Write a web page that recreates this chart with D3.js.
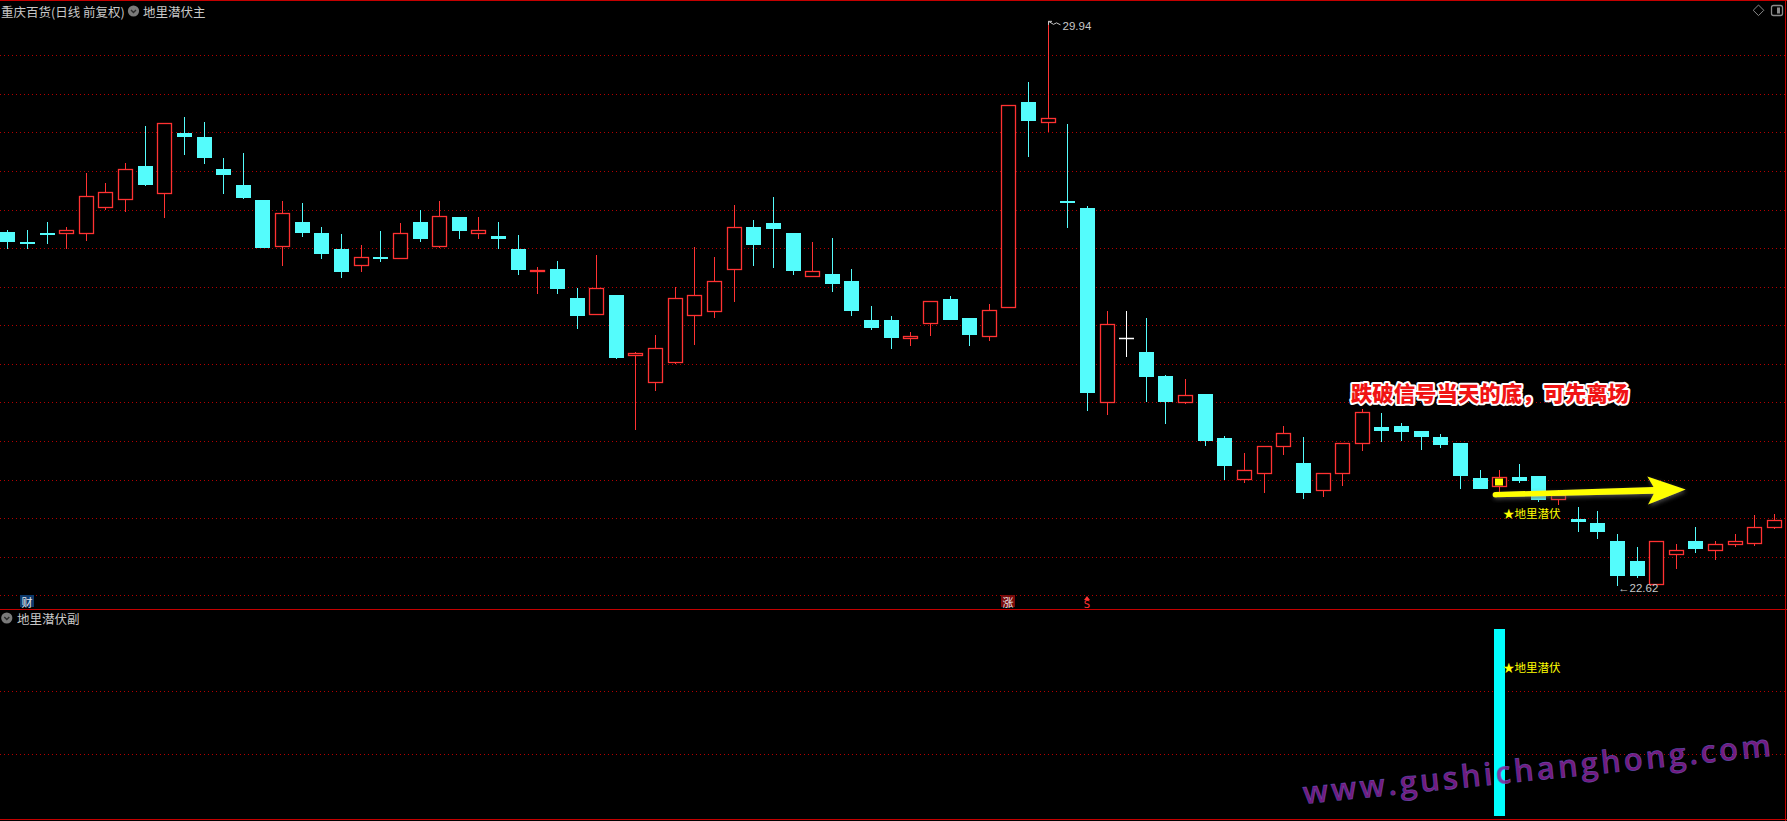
<!DOCTYPE html>
<html>
<head>
<meta charset="utf-8">
<script src="https://cdn.jsdelivr.net/npm/d3@7"></script>
<style>
html, body { margin: 0; padding: 0; background: #000; overflow: hidden; }
text { font-family: "Noto Sans CJK SC", "Noto Sans", sans-serif; }
</style>
</head>
<body>
<div id="chart"></div>
<script>
// daily bars
const opens  = [27.21,27.08,27.20,27.20,27.19,27.53,27.64,28.06,27.71,28.49,28.44,28.02,27.82,27.62,27.03,27.34,27.19,26.99,26.78,26.89,
                26.87,27.34,27.03,27.40,27.20,27.16,26.99,26.71,26.73,26.35,26.15,26.39,25.61,25.27,25.52,26.13,26.19,26.73,27.28,27.32,
                27.19,26.64,26.67,26.57,26.07,26.07,25.83,26.03,26.34,26.10,25.86,26.24,28.89,28.64,27.61,27.52,25.01,25.84,25.65,25.34,
                25.01,25.11,24.54,24.01,24.08,24.44,24.21,23.87,24.09,24.48,24.68,24.70,24.63,24.55,24.47,24.02,23.92,24.04,24.05,23.75,
                23.49,23.44,23.21,22.94,22.65,23.04,23.20,23.09,23.17,23.18,23.38];
const highs  = [27.23,27.24,27.34,27.27,27.98,27.85,28.10,28.59,28.62,28.70,28.64,28.17,28.24,27.63,27.61,27.58,27.27,27.18,27.04,27.22,
                27.32,27.50,27.61,27.40,27.41,27.34,27.17,26.75,26.83,26.49,26.91,26.39,25.66,25.87,26.50,27.01,26.88,27.56,27.37,27.66,
                27.19,27.08,27.13,26.73,26.25,26.12,25.91,26.32,26.38,26.10,26.27,28.85,29.15,29.94,28.61,27.55,26.18,26.19,26.09,25.36,
                25.31,25.11,24.56,24.35,24.44,24.69,24.55,24.08,24.48,24.91,24.86,24.74,24.63,24.59,24.47,24.12,24.13,24.20,24.05,23.87,
                23.65,23.59,23.29,23.13,23.21,23.17,23.38,23.21,23.29,23.54,23.55];
const lows   = [26.99,26.99,27.05,26.99,27.09,27.50,27.47,27.80,27.39,28.21,28.09,27.70,27.64,27.00,26.77,27.15,26.86,26.61,26.69,26.82,
                26.87,27.08,27.00,27.12,27.12,26.99,26.65,26.41,26.41,25.95,26.15,25.56,24.64,25.15,25.50,25.74,26.09,26.30,26.77,26.74,
                26.65,26.63,26.43,26.12,25.94,25.69,25.73,25.86,26.07,25.73,25.80,26.24,28.18,28.50,27.26,24.89,24.84,25.59,25.01,24.72,
                24.98,24.44,23.99,23.96,23.82,24.32,23.75,23.77,23.92,24.37,24.49,24.50,24.38,24.41,23.88,23.88,23.83,23.96,23.71,23.67,
                23.32,23.23,22.62,22.72,22.65,22.84,23.05,22.96,23.13,23.14,23.36];
const closes = [27.08,27.05,27.19,27.23,27.68,27.73,28.02,27.82,28.62,28.44,28.17,27.95,27.65,27.00,27.46,27.20,26.92,26.69,26.89,26.88,
                27.20,27.12,27.42,27.22,27.23,27.12,26.72,26.72,26.47,26.12,26.49,25.58,25.64,25.70,26.35,26.39,26.57,27.28,27.04,27.25,
                26.70,26.70,26.54,26.19,25.97,25.84,25.86,26.31,26.07,25.87,26.20,28.85,28.65,28.69,27.59,25.12,26.02,25.84,25.33,25.01,
                25.10,24.50,24.18,24.13,24.44,24.60,23.83,24.08,24.48,24.88,24.63,24.62,24.55,24.45,24.05,23.88,24.03,23.98,23.73,23.80,
                23.45,23.32,22.75,22.75,23.20,23.09,23.10,23.17,23.20,23.39,23.47];

const gridPrices = [22.5,23,23.5,24,24.5,25,25.5,26,26.5,27,27.5,28,28.5,29,29.5];
const subGrid = [1/3, 2/3];

// signal (地里潜伏)
const signalIdx = [76];
const signalValue = [1];
const signalLabel = "★地里潜伏";

// bottom markers
const markerIdx = [1, 51, 55];
const markerText = ["财", "涨", "S"];

const highIdx = 53, lowIdx = 82;

const W = 1787, H = 821;
const red = "#ff3232", cyan = "#54fcfc", gridRed = "#b40000", frameRed = "#c40000";

const x = d3.scaleLinear().domain([0, 90]).range([7.3, 1774]);
const y = d3.scaleLinear().domain([22.5, 29.5]).range([595.3, 55.3]);
const ySub = d3.scaleLinear().domain([0, 1]).range([816, 629]);

const svg = d3.select("#chart").append("svg")
    .attr("width", W).attr("height", H)
    .style("background", "#000").style("display", "block");

const defs = svg.append("defs");
const shadow = defs.append("filter").attr("id", "arrowShadow")
    .attr("x", "-10%").attr("y", "-50%").attr("width", "120%").attr("height", "200%");
shadow.append("feDropShadow").attr("dx", 1).attr("dy", 2).attr("stdDeviation", 2)
    .attr("flood-color", "#666").attr("flood-opacity", 0.7);

//grid lines
svg.append("g").selectAll("line").data(gridPrices).join("line")
    .attr("x1", 0).attr("x2", W - 1)
    .attr("y1", d => Math.round(y(d)) + 0.5).attr("y2", d => Math.round(y(d)) + 0.5)
    .attr("stroke", gridRed).attr("stroke-dasharray", "1,3");

svg.append("g").selectAll("line").data(subGrid).join("line")
    .attr("x1", 0).attr("x2", W - 1)
    .attr("y1", d => Math.round(ySub(d)) + 0.5).attr("y2", d => Math.round(ySub(d)) + 0.5)
    .attr("stroke", gridRed).attr("stroke-dasharray", "1,3");

// frame
const frame = svg.append("g").attr("stroke", frameRed).attr("stroke-width", 1);
frame.append("line").attr("x1", 0).attr("x2", W).attr("y1", 0.5).attr("y2", 0.5);
frame.append("line").attr("x1", 0).attr("x2", W).attr("y1", 609.5).attr("y2", 609.5);
frame.append("line").attr("x1", 0).attr("x2", W).attr("y1", 819.5).attr("y2", 819.5);
frame.append("line").attr("x1", W - 1.5).attr("x2", W - 1.5).attr("y1", 0).attr("y2", H);

// candles
const bars = opens.map((o, i) => ({i: i, o: o, h: highs[i], l: lows[i], c: closes[i]}));

const gC = svg.append("g");
bars.forEach(function (d) {
    const cx = Math.round(x(d.i)) + 0.5;
    const left = Math.round(x(d.i)) - 7;
    const top = Math.round(y(Math.max(d.o, d.c)));
    const bot = Math.round(y(Math.min(d.o, d.c)));
    const yh = Math.round(y(d.h)), yl = Math.round(y(d.l));
    if (d.c > d.o) {
        gC.append("line").attr("x1", cx).attr("x2", cx).attr("y1", yh).attr("y2", top)
            .attr("stroke", red);
        gC.append("line").attr("x1", cx).attr("x2", cx).attr("y1", bot + 1).attr("y2", yl)
            .attr("stroke", red);
        gC.append("rect").attr("x", left + 0.5).attr("y", top + 0.5)
            .attr("width", 14).attr("height", Math.max(bot - top, 1))
            .attr("fill", "#000").attr("stroke", red).attr("stroke-width", 1.3);
    } else if (d.c < d.o) {
        gC.append("line").attr("x1", cx).attr("x2", cx).attr("y1", yh).attr("y2", yl)
            .attr("stroke", cyan);
        gC.append("rect").attr("x", left).attr("y", top)
            .attr("width", 15).attr("height", Math.max(bot - top, 2))
            .attr("fill", cyan);
    } else {
        gC.append("line").attr("x1", cx).attr("x2", cx).attr("y1", yh).attr("y2", yl)
            .attr("stroke", "#fff");
        gC.append("line").attr("x1", left).attr("x2", left + 15).attr("y1", top + 0.5).attr("y2", top + 0.5)
            .attr("stroke", "#fff").attr("stroke-width", 1.5);
    }
});

// signal fill on the candle
signalIdx.forEach(function (i) {
    const top = Math.round(y(Math.max(opens[i], closes[i])));
    const bot = Math.round(y(Math.min(opens[i], closes[i])));
    svg.append("rect").attr("x", Math.round(x(i)) - 4).attr("y", top + 1.5)
        .attr("width", 8).attr("height", bot - top - 2).attr("fill", "#ffff00");
});

// highest / lowest labels
const hx = Math.round(x(highIdx)) + 0.5, hy = y(highs[highIdx]);
svg.append("path")
    .attr("d", "M" + hx + "," + hy + "l3.5,0M" + hx + "," + hy + "l0,3.5M" + hx + "," + hy +
        "l5,3l3,-1.5l4,2")
    .attr("fill", "none").attr("stroke", "#c8c8c8").attr("stroke-width", 1);
svg.append("text").attr("x", hx + 14).attr("y", hy + 5)
    .attr("dominant-baseline", "central")
    .style("font-family", "'Liberation Sans', sans-serif").style("font-size", "11.5px")
    .attr("fill", "#c8c8c8").text(highs[highIdx].toFixed(2));

svg.append("text").attr("x", Math.round(x(lowIdx)) + 1).attr("y", y(lows[lowIdx]) + 2)
    .attr("dominant-baseline", "central")
    .style("font-family", "'Liberation Sans', sans-serif").style("font-size", "11.5px")
    .attr("fill", "#c8c8c8").text("←" + lows[lowIdx].toFixed(2));

// signal label main panel
svg.append("text").attr("x", x(76.2)).attr("y", y(23.57))
    .attr("dominant-baseline", "central").style("font-size", "11.5px")
    .attr("fill", "#ffff00").text(signalLabel);

// lower panel bar
svg.append("g").selectAll("rect").data(signalIdx).join("rect")
    .attr("x", d => Math.round(x(d)) - 5).attr("width", 11)
    .attr("y", (d, k) => ySub(signalValue[k])).attr("height", (d, k) => ySub(0) - ySub(signalValue[k]))
    .attr("fill", "#00ffff");

svg.append("text").attr("x", x(76.2)).attr("y", ySub(0.797))
    .attr("dominant-baseline", "central").style("font-size", "11.5px")
    .attr("fill", "#ffff00").text(signalLabel);

// markers at bottom of main panel
markerIdx.forEach(function (i, k) {
    const mx = Math.round(x(i));
    if (markerText[k] === "S") {
        svg.append("path").attr("d", "M" + (mx - 3) + ",600l3,-4l3,4z").attr("fill", red);
        svg.append("text").attr("x", mx).attr("y", 604.5).attr("text-anchor", "middle")
            .attr("dominant-baseline", "central")
            .style("font-family", "'DejaVu Sans', sans-serif").style("font-size", "10px")
            .attr("fill", red).text("S");
    } else {
        svg.append("rect").attr("x", mx - 7).attr("y", 595).attr("width", 14).attr("height", 12)
            .attr("fill", markerText[k] === "财" ? "#0e3a6c" : "#7a0a0a");
        svg.append("text").attr("x", mx).attr("y", 601.5).attr("text-anchor", "middle")
            .attr("dominant-baseline", "central").style("font-size", "11px")
            .attr("fill", "#e8e8e8").text(markerText[k]);
    }
});

// yellow arrow
const a0 = [x(75.8), y(23.805)], a1 = [x(85.5), y(23.87)];
const len = Math.hypot(a1[0] - a0[0], a1[1] - a0[1]);
const ux = (a1[0] - a0[0]) / len, uy = (a1[1] - a0[1]) / len;
const nx = -uy, ny = ux;
const pt = (d, n) => [a1[0] - ux * d + nx * n, a1[1] - uy * d + ny * n];
const arrowPts = [
    [a0[0] + nx * 2.6, a0[1] + ny * 2.6],
    pt(32, 3.4), pt(38, 14), a1, pt(38, -14), pt(32, -3.4),
    [a0[0] - nx * 2.6, a0[1] - ny * 2.6]
];
const gA = svg.append("g").attr("filter", "url(#arrowShadow)");
gA.append("path").attr("d", d3.line()(arrowPts) + "Z").attr("fill", "#ffff00");
gA.append("circle").attr("cx", a0[0]).attr("cy", a0[1]).attr("r", 2.6).attr("fill", "#ffff00");

// red note
svg.append("text").attr("x", x(68.45)).attr("y", y(25.13))
    .attr("dominant-baseline", "central")
    .attr("textLength", 278).attr("lengthAdjust", "spacingAndGlyphs")
    .style("font-size", "21px").style("font-weight", 900)
    .attr("fill", "#f01414").attr("stroke", "#ffffff").attr("stroke-width", 4)
    .attr("stroke-linejoin", "round").attr("paint-order", "stroke")
    .text("跌破信号当天的底，可先离场");

// titles
const title = svg.append("g").attr("fill", "#c8c8c8").style("font-size", "12.5px");
title.append("text").attr("x", 1).attr("y", 11).attr("dominant-baseline", "central")
    .text("重庆百货(日线 前复权)");
title.append("text").attr("x", 143).attr("y", 11).attr("dominant-baseline", "central")
    .text("地里潜伏主");
title.append("text").attr("x", 17).attr("y", 618.5).attr("dominant-baseline", "central")
    .text("地里潜伏副");

[[133.5, 11], [6.8, 618]].forEach(function (p) {
    svg.append("circle").attr("cx", p[0]).attr("cy", p[1]).attr("r", 5.6).attr("fill", "#7a7a7a");
    svg.append("path").attr("d", "M" + (p[0] - 2.5) + "," + (p[1] - 1) + "l2.5,2.5l2.5,-2.5")
        .attr("fill", "none").attr("stroke", "#2a2a2a").attr("stroke-width", 1.4);
});

// top right icons
svg.append("path").attr("d", "M1758.5,5l5.3,5.3l-5.3,5.3l-5.3,-5.3z")
    .attr("fill", "none").attr("stroke", "#8a8a8a");
svg.append("rect").attr("x", 1771.5).attr("y", 5.5).attr("width", 11).attr("height", 10).attr("rx", 2)
    .attr("fill", "none").attr("stroke", "#8a8a8a").attr("stroke-width", 1.3);
svg.append("rect").attr("x", 1777).attr("y", 7.5).attr("width", 3).attr("height", 6).attr("fill", "#8a8a8a");

// watermark
svg.append("text")
    .attr("transform", "translate(1304,804) rotate(-5.85)")
    .attr("textLength", 470).attr("lengthAdjust", "spacing")
    .style("font-family", "'Open Sans', sans-serif").style("font-size", "31px").style("font-weight", 600)
    .attr("fill", "#8a1f96").attr("fill-opacity", 0.85)
    .attr("stroke", "#6a6ad8").attr("stroke-width", 0.7).attr("stroke-opacity", 0.6)
    .text("www.gushichanghong.com");
</script>
</body>
</html>
